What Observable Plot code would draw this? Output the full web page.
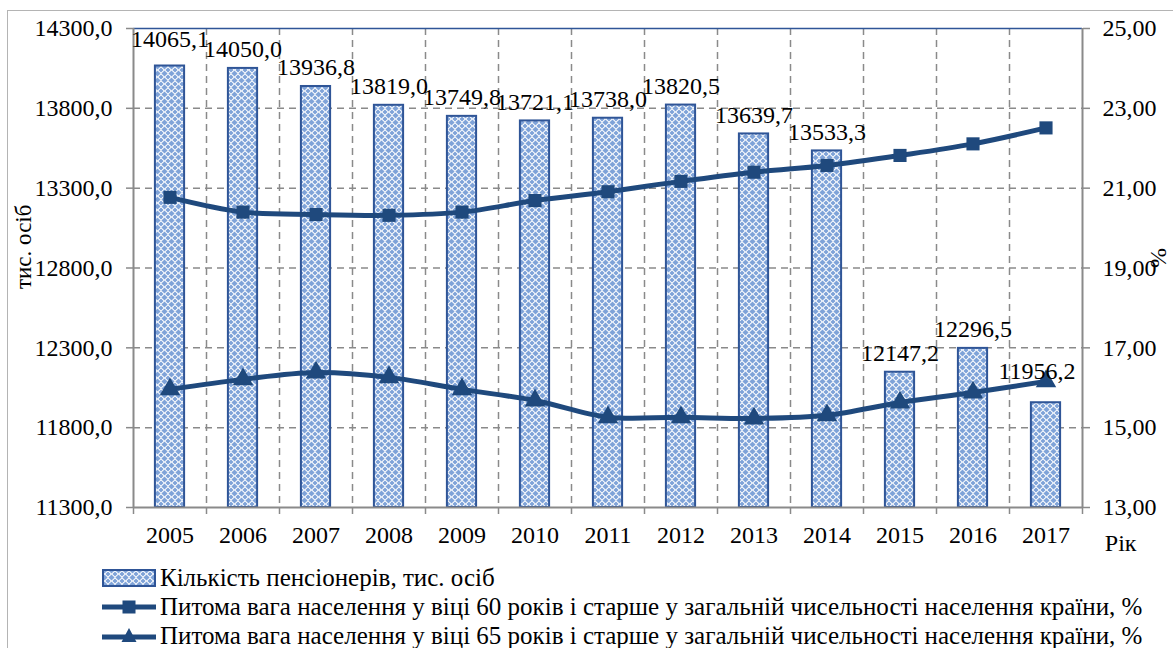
<!DOCTYPE html>
<html>
<head>
<meta charset="utf-8">
<script src="https://cdn.jsdelivr.net/npm/d3@7"></script>
<script src="https://cdn.jsdelivr.net/npm/@observablehq/plot@0.6"></script>
<style>
  html, body { margin: 0; padding: 0; background: #fff; overflow: hidden; width: 1173px; height: 648px; }
  body { position: relative; font-family: "Liberation Serif", "Times New Roman", serif; }
  #frame { position: absolute; left: 7px; top: 10px; width: 1400px; height: 900px; border: 1.5px solid #b4b4b4; pointer-events: none; }
  #chart { position: absolute; left: 0; top: 0; }
  #legend { position: absolute; left: 0; top: 563px; color: #000; font-size: 25px; }
  .row { display: flex; align-items: center; height: 29px; padding-left: 101px; white-space: nowrap; }
  .row svg { flex: none; margin-right: 3px; }
</style>
</head>
<body>
<svg width="0" height="0" style="position:absolute">
  <defs>
    <pattern id="pat" width="7" height="7" patternUnits="userSpaceOnUse">
      <rect width="7" height="7" fill="#ffffff"></rect>
      <path d="M3.5,0.4 L6.6,3.5 L3.5,6.6 L0.4,3.5 Z" fill="#7fa3d8"></path>
      <path d="M0,0 L2.6,0 L0,2.6 Z M7,0 L4.4,0 L7,2.6 Z M0,7 L2.6,7 L0,4.4 Z M7,7 L4.4,7 L7,4.4 Z" fill="#7fa3d8"></path>
    </pattern>
  </defs>
</svg>
<div id="chart"></div>
<div id="legend"></div>
<div id="frame"></div>
<script>
// ---- data ----
const years = [2005, 2006, 2007, 2008, 2009, 2010, 2011, 2012, 2013, 2014, 2015, 2016, 2017];
const pensioners = [14065.1, 14050.0, 13936.8, 13819.0, 13749.8, 13721.1, 13738.0, 13820.5, 13639.7, 13533.3, 12147.2, 12296.5, 11956.2];
const share60 = [20.77, 20.40, 20.34, 20.32, 20.40, 20.69, 20.91, 21.17, 21.40, 21.57, 21.82, 22.11, 22.51];
const share65 = [15.96, 16.21, 16.38, 16.26, 15.96, 15.68, 15.26, 15.26, 15.23, 15.31, 15.63, 15.88, 16.16];
const leftTicks = [11300, 11800, 12300, 12800, 13300, 13800, 14300];
const rightTicks = [13, 15, 17, 19, 21, 23, 25];
const legendLabels = [
  "Кількість пенсіонерів, тис. осіб",
  "Питома вага населення у віці 60 років і старше у загальній чисельності населення країни, %",
  "Питома вага населення у віці 65 років і старше у загальній чисельності населення країни, %"
];
const yTitle = "тис. осіб";
const y2Title = "%";
const xTitle = "Рік";

// ---- helpers ----
const FONT = "'Liberation Serif', 'Times New Roman', serif";
const FS = 24;
const BLUE = "#1f497d";
const BAR_STROKE = "#2f5597";
const GRAY = "#8a8a8a";
const yMin = leftTicks[0], yMax = leftTicks[leftTicks.length - 1];
const rMin = rightTicks[0], rMax = rightTicks[rightTicks.length - 1];
const k = (yMax - yMin) / (rMax - rMin);
const toLeft = v => yMin + (v - rMin) * k;
const fromLeft = d => (d - yMin) / k + rMin;
const idx = d3.range(years.length);
const fmt1 = v => v.toFixed(1).replace(".", ",");
const fmt2 = v => v.toFixed(2).replace(".", ",");
const bounds = d3.range(years.length + 1).map(i => years[0] - 0.5 + i);
const innerBounds = bounds.slice(1, -1);

const chart = Plot.plot({
  width: 1173,
  height: 563,
  marginLeft: 133,
  marginRight: 91,
  marginTop: 28,
  marginBottom: 56,
  style: { fontFamily: FONT, fontSize: FS + "px", background: "transparent", overflow: "visible" },
  x: { type: "linear", domain: [bounds[0], bounds[bounds.length - 1]] },
  y: { domain: [yMin, yMax] },
  marks: [
    Plot.gridY(leftTicks.slice(1, -1), { stroke: GRAY, strokeOpacity: 1, strokeWidth: 1.5, strokeDasharray: "7,5" }),
    Plot.gridX(innerBounds, { stroke: GRAY, strokeOpacity: 1, strokeWidth: 1.5, strokeDasharray: "7,5" }),
    Plot.rectY(idx, {
      x1: i => years[i] - 0.2, x2: i => years[i] + 0.2,
      y1: yMin, y2: i => pensioners[i],
      fill: "url(#pat)", stroke: BAR_STROKE, strokeWidth: 2
    }),
    Plot.ruleY([yMax], { stroke: BAR_STROKE, strokeWidth: 1.5 }),
    Plot.ruleY([yMin], { stroke: GRAY, strokeWidth: 2 }),
    Plot.ruleX([bounds[0], bounds[bounds.length - 1]], { stroke: GRAY, strokeWidth: 2 }),
    Plot.axisY({ ticks: leftTicks, tickFormat: fmt1, tickSize: 7, tickPadding: 14, stroke: GRAY, fill: "#000", strokeWidth: 1.5, label: null, fontFamily: FONT }),
    Plot.axisY({ anchor: "right", ticks: leftTicks, tickFormat: d => fmt2(fromLeft(d)), tickSize: 7, tickPadding: 13, stroke: GRAY, fill: "#000", strokeWidth: 1.5, label: null, fontFamily: FONT }),
    Plot.axisX({ ticks: bounds, tickFormat: () => "", tickSize: 7, stroke: GRAY, strokeWidth: 1.5, label: null }),
    Plot.axisX({ ticks: years, tickFormat: d => String(d), tickSize: 0, tickPadding: 18, fill: "#000", label: null, fontFamily: FONT }),
    Plot.line(idx, { x: i => years[i], y: i => toLeft(share60[i]), curve: "catmull-rom", stroke: BLUE, strokeWidth: 5 }),
    Plot.dot(idx, { x: i => years[i], y: i => toLeft(share60[i]), symbol: "square", r: 7.4, fill: BLUE }),
    Plot.line(idx, { x: i => years[i], y: i => toLeft(share65[i]), curve: "catmull-rom", stroke: BLUE, strokeWidth: 5 }),
    Plot.dot(idx, { x: i => years[i], y: i => toLeft(share65[i]), symbol: "triangle", r: 7.6, fill: BLUE }),
    Plot.text(idx.filter(i => i > 0 && i < years.length - 1), { x: i => years[i], y: i => pensioners[i], text: i => fmt1(pensioners[i]), dy: -19, fill: "#000", fontFamily: FONT }),
    Plot.text([0], { x: i => years[i], y: i => pensioners[i], text: i => fmt1(pensioners[i]), dy: -27, fill: "#000", fontFamily: FONT }),
    Plot.text([years.length - 1], { x: i => years[i], y: i => pensioners[i], text: i => fmt1(pensioners[i]), dx: -9, dy: -31, fill: "#000", fontFamily: FONT }),
    Plot.text([yTitle], { frameAnchor: "left", dx: -110, dy: 21, rotate: -90, fill: "#000", fontFamily: FONT, fontSize: 23 }),
    Plot.text([y2Title], { frameAnchor: "right", dx: 76, dy: 0, rotate: 90, fill: "#000", fontFamily: FONT }),
    Plot.text([xTitle], { frameAnchor: "bottom-right", dx: 54, dy: 43, fill: "#000", fontFamily: FONT })
  ]
});
document.getElementById("chart").appendChild(chart);

// ---- legend ----
const legend = document.getElementById("legend");
const swatches = [
  `<svg width="56" height="22"><rect x="2" y="3" width="52" height="16" fill="url(#pat)" stroke="${BAR_STROKE}" stroke-width="2"></rect></svg>`,
  `<svg width="56" height="22"><line x1="1" y1="11" x2="55" y2="11" stroke="${BLUE}" stroke-width="5"></line><rect x="21.5" y="4.5" width="13" height="13" fill="${BLUE}"></rect></svg>`,
  `<svg width="56" height="22"><line x1="1" y1="12" x2="55" y2="12" stroke="${BLUE}" stroke-width="5"></line><path d="M28,3 L35.5,17 L20.5,17 Z" fill="${BLUE}"></path></svg>`
];
legendLabels.forEach((lab, i) => {
  const row = document.createElement("div");
  row.className = "row";
  row.innerHTML = swatches[i] + `<span>${lab}</span>`;
  legend.appendChild(row);
});
</script>
</body>
</html>
